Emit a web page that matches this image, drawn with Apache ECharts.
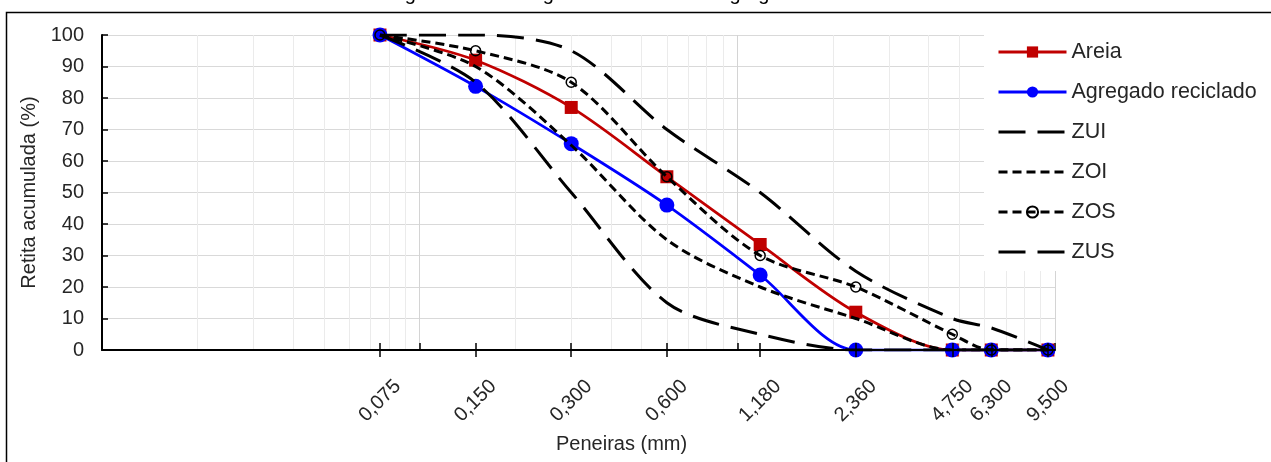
<!DOCTYPE html>
<html>
<head>
<meta charset="utf-8">
<script src="https://cdn.jsdelivr.net/npm/echarts@6/dist/echarts.min.js"></script>
<style>
html,body{margin:0;padding:0;background:#fff;}
#chart{width:1271px;height:462px;}
</style>
</head>
<body>
<div id="chart"></div>
<script>
// Sieve sizes (mm) and their tick labels
const sieves = [0.075, 0.15, 0.3, 0.6, 1.18, 2.36, 4.75, 6.3, 9.5];
const sieveLabels = ['0,075', '0,150', '0,300', '0,600', '1,180', '2,360', '4,750', '6,300', '9,500'];
const yTicks = [0, 10, 20, 30, 40, 50, 60, 70, 80, 90, 100];

// Cumulative retained (%)
const areia     = [100, 92, 77, 55, 33.5, 12, 0, 0, 0];
const reciclado = [100, 83.7, 65.5, 46, 23.8, 0, 0, 0, 0];
const zui       = [100, 85, 50, 15, 5, 0, 0, 0, 0];
const zoi       = [100, 90, 65, 35, 20, 10, 0, 0, 0];
const zos       = [100, 95, 85, 55, 30, 20, 5, 0, 0];
const zus       = [100, 100, 95, 70, 50, 25, 10, 7, 0];

const minorGrid = [0.02,0.03,0.04,0.05,0.06,0.07,0.08,0.09,0.2,0.3,0.4,0.5,0.6,0.7,0.8,0.9,2,3,4,5,6,7,8,9];
const majorGrid = [0.1, 1, 10];

function pair(vals){ return sieves.map((s,i)=>[s, vals[i]]); }
function labelFor(v){
  for (let i=0;i<sieves.length;i++){ if (Math.abs(v - sieves[i]) < sieves[i]*1e-4) return sieveLabels[i]; }
  return '';
}

const TXT = '#262626';
const FONT = 'Liberation Sans, Arial, sans-serif';
const longDash = [27, 12];
const shortDash = [9, 5];
const NOFILL = 'rgba(0,0,0,0)';

const chart = echarts.init(document.getElementById('chart'), null, {renderer:'canvas'});
const logBase = {type:'log', logBase:10, min:0.01, max:10, gridIndex:0, position:'bottom'};

chart.setOption({
  animation:false,
  backgroundColor:'#fff',
  textStyle:{fontFamily:FONT},
  grid:{left:102, top:35, right:216, bottom:112, containLabel:false},
  xAxis:[
    Object.assign({}, logBase, {
      axisLine:{show:true, lineStyle:{color:'#000', width:2}},
      axisTick:{show:true, inside:false, length:7, customValues:sieves, lineStyle:{color:'#000', width:1.5}},
      axisLabel:{show:true, customValues:sieves, formatter:labelFor, rotate:45, align:'center', verticalAlign:'middle',
                 margin:51, fontSize:20, color:TXT, fontFamily:FONT},
      splitLine:{show:false}, minorTick:{show:false}, minorSplitLine:{show:false}, z:5
    }),
    Object.assign({}, logBase, {
      axisLine:{show:false}, axisLabel:{show:false},
      axisTick:{show:false, customValues:minorGrid},
      splitLine:{show:true, lineStyle:{color:'#ebebeb', width:1}}, z:0
    }),
    Object.assign({}, logBase, {
      axisLine:{show:false}, axisLabel:{show:false},
      axisTick:{show:true, inside:true, length:7, customValues:majorGrid, lineStyle:{color:'#000', width:1.5}},
      splitLine:{show:true, lineStyle:{color:'#d4d4d4', width:1}}, z:1
    }),
    Object.assign({}, logBase, {
      axisLine:{show:false}, axisLabel:{show:false},
      axisTick:{show:true, inside:true, length:7, customValues:sieves, lineStyle:{color:'#000', width:1.5}},
      splitLine:{show:false}, z:5
    })
  ],
  yAxis:{
    type:'value', min:0, max:100, interval:10,
    name:'Retita acumulada (%)', nameLocation:'middle', nameGap:60,
    nameTextStyle:{fontSize:20, color:TXT, fontFamily:FONT},
    axisLine:{show:true, lineStyle:{color:'#000', width:2}},
    axisTick:{show:true, inside:true, length:6, lineStyle:{color:'#000', width:1.5}},
    axisLabel:{fontSize:20, color:TXT, margin:18, fontFamily:FONT,
               formatter:(v)=> yTicks.indexOf(v) >= 0 ? String(v) : ''},
    splitLine:{show:true, lineStyle:{color:'#d9d9d9', width:1}}
  },
  legend:{
    orient:'vertical', left:984, top:31, padding:[10,12,8,13],
    backgroundColor:'#fff', itemWidth:68, itemHeight:14, itemGap:18,
    lineStyle:{width:3},
    textStyle:{fontSize:21.5, color:TXT, fontFamily:FONT},
    data:['Areia','Agregado reciclado','ZUI','ZOI','ZOS','ZUS'], z:10
  },
  series:[
    {name:'Areia', type:'line', data:pair(areia), smooth:0.3, symbol:'rect', symbolSize:13,
     lineStyle:{color:'#C00000', width:2.75}, itemStyle:{color:'#C00000'}, z:2},
    {name:'Agregado reciclado', type:'line', data:pair(reciclado), smooth:0.3, symbol:'circle', symbolSize:15,
     lineStyle:{color:'#0000FF', width:2.75}, itemStyle:{color:'#0000FF'}, z:3},
    {name:'ZUI', type:'line', data:pair(zui), smooth:0.3, symbol:'none',
     lineStyle:{color:'#000', width:3, type:longDash}, itemStyle:{color:NOFILL, borderColor:NOFILL}, z:4},
    {name:'ZOI', type:'line', data:pair(zoi), smooth:0.3, symbol:'none',
     lineStyle:{color:'#000', width:3, type:shortDash}, itemStyle:{color:NOFILL, borderColor:NOFILL}, z:4},
    {name:'ZOS', type:'line', data:pair(zos), smooth:0.3, symbol:'circle', symbolSize:10,
     lineStyle:{color:'#000', width:3, type:shortDash}, itemStyle:{color:NOFILL, borderColor:'#000', borderWidth:1.5}, z:4},
    {name:'ZUS', type:'line', data:pair(zus), smooth:0.3, symbol:'none',
     lineStyle:{color:'#000', width:3, type:longDash}, itemStyle:{color:NOFILL, borderColor:NOFILL}, z:4}
  ],
  graphic:[
    {type:'rect', shape:{x:6.5, y:12.5, width:1300, height:500}, style:{fill:'none', stroke:'#000', lineWidth:1.5}, silent:true, z:-1},
    {type:'text', left:'center', top:-16, style:{text:'Figura 1 – Curva granulométrica dos agregados miúdos', fontSize:20, fontFamily:FONT, fill:'#000'}, z:0},
    {type:'text', left:556, top:434, style:{text:'Peneiras (mm)', fontSize:20, fontFamily:FONT, fill:TXT}}
  ]
});
</script>
</body>
</html>
